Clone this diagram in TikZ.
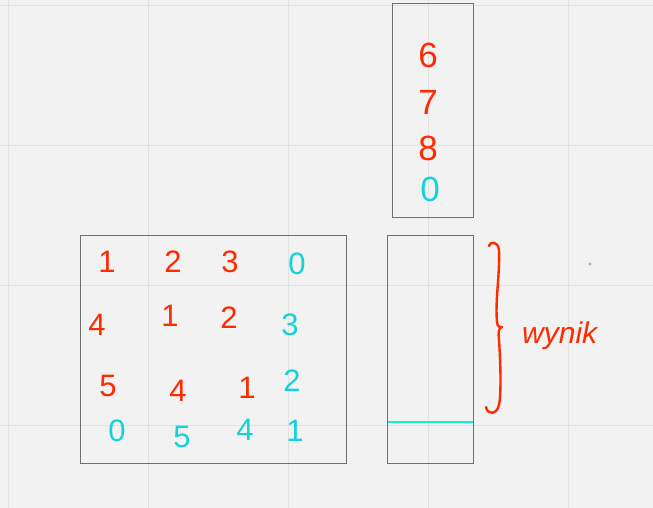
\documentclass[tikz,border=0pt]{standalone}
\usepackage{fontspec}
\setmainfont{Liberation Sans}
\definecolor{bg}{HTML}{F2F2F2}
\definecolor{gridc}{HTML}{E2E2E2}
\definecolor{boxc}{HTML}{707070}
\definecolor{penred}{HTML}{FF2A00}
\definecolor{pencyan}{HTML}{14D2DA}
\definecolor{lineaqua}{HTML}{12F2C6}
\begin{document}
\begin{tikzpicture}[x=1pt,y=-1pt,
  frame/.style={draw=boxc,line width=1.4pt},
  rd/.style={text=penred,font=\fontsize{31}{31}\selectfont,inner sep=0pt},
  cy/.style={text=pencyan,font=\fontsize{31}{31}\selectfont,inner sep=0pt},
  bigd/.style={font=\fontsize{35}{35}\selectfont}]
\fill[bg] (0,0) rectangle (653,508);
\useasboundingbox (0,0) rectangle (653,508);
\foreach \x in {8,148,288,428,568} \draw[gridc,line width=0.8pt] (\x,0) -- (\x,508);
\foreach \y in {5,145,285,425} \draw[gridc,line width=0.8pt] (0,\y) -- (653,\y);
\fill[gray!60] (590,264) circle (1.6);
% boxes
\node[frame,minimum width=266,minimum height=228,anchor=north west,inner sep=0pt] (grid) at (80,235) {};
\node[frame,minimum width=81,minimum height=214,anchor=north west,inner sep=0pt] (stack) at (392,3) {};
\node[frame,minimum width=86,minimum height=228,anchor=north west,inner sep=0pt] (res) at (387,235) {};
\coordinate (la) at (388,422);
\coordinate (lb) at (473,422);
\draw[lineaqua,line width=1.8pt] (la) -- (lb);
% grid digits
\node[rd] (a11) at (107,262) {1};
\node[rd] (a12) at (173,262) {2};
\node[rd] (a13) at (230,262) {3};
\node[cy] (a14) at (297,264) {0};
\node[rd] (a21) at (97,325) {4};
\node[rd] (a22) at (170,316) {1};
\node[rd] (a23) at (229,318) {2};
\node[cy] (a24) at (290,325) {3};
\node[rd] (a31) at (108,386) {5};
\node[rd] (a32) at (178,391) {4};
\node[rd] (a33) at (247,388) {1};
\node[cy] (a34) at (292,381) {2};
\node[cy] (a41) at (117,431) {0};
\node[cy] (a42) at (182,437) {5};
\node[cy] (a43) at (245,430) {4};
\node[cy] (a44) at (295,431) {1};
% stack digits
\node[rd,bigd] (s1) at (428,55) {6};
\node[rd,bigd] (s2) at (428,102) {7};
\node[rd,bigd] (s3) at (428,148) {8};
\node[cy,bigd] (s4) at (430,189) {0};
% brace
\draw[penred,line width=2.4pt,line cap=round,line join=round]
  (489,246) .. controls (490,241) and (498,241) .. (499,250)
  .. controls (500,275) and (495,300) .. (497,322)
  .. controls (497,327) and (501,328) .. (502,327)
  .. controls (499,328) and (498,331) .. (499,340)
  .. controls (501,370) and (501,395) .. (499,405)
  .. controls (497,415) and (487,415) .. (486,407);
\node[text=penred,font=\itshape\fontsize{30}{30}\selectfont,inner sep=0pt,anchor=base west] (wy) at (522,343) {wynik};
\end{tikzpicture}
\end{document}
